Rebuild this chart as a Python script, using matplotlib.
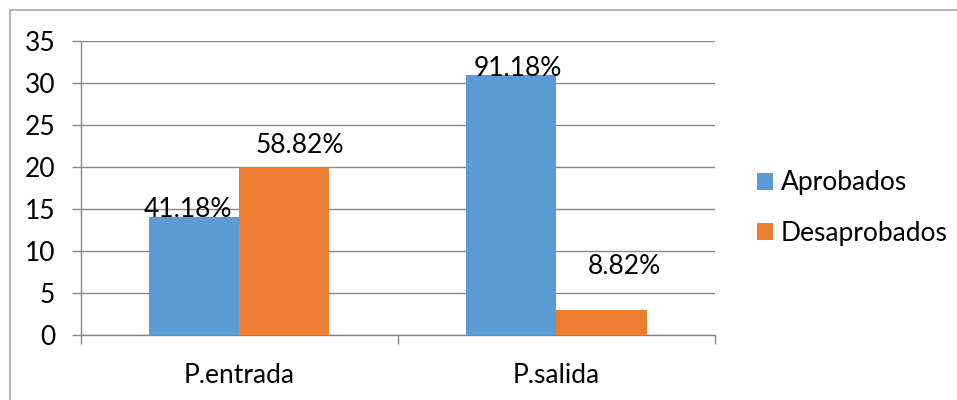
import numpy as np
import matplotlib
matplotlib.use('Agg')
from matplotlib import pyplot as plt
from matplotlib.patches import Rectangle

categories = ['P.entrada', 'P.salida']
aprobados = [14, 31]
desaprobados = [20, 3]
aprob_labels = ['41.18%', '91.18%']
desap_labels = ['58.82%', '8.82%']

blue = '#5B9BD5'
orange = '#ED7D31'
grid_col = '#878787'
fs = 19

plt.rcParams['font.family'] = ['Lato', 'DejaVu Sans']

fig = plt.figure(figsize=(9.57, 4.0), dpi=100)
ax = fig.add_axes([0.0846, 0.1625, 0.6625, 0.735])

x = np.arange(len(categories))
w = 0.284
b1 = ax.bar(x - w / 2, aprobados, w, color=blue, label='Aprobados', zorder=3)
b2 = ax.bar(x + w / 2, desaprobados, w, color=orange, label='Desaprobados', zorder=3)

# label offsets in pixels (dx, dy) relative to bar top centre
px = 0.72
aprob_off = [(-6, 0), (6, -1)]
desap_off = [(15, 14), (23, 36)]
for bars, labs, offs in [(b1, aprob_labels, aprob_off), (b2, desap_labels, desap_off)]:
    for bar, lab, (dx, dy) in zip(bars, labs, offs):
        ax.annotate(lab, (bar.get_x() + bar.get_width() / 2, bar.get_height()),
                    xytext=(dx * px, dy * px), textcoords='offset points',
                    ha='center', va='baseline', fontsize=fs, zorder=4)

ax.set_xlim(-0.5, 1.5)
ax.set_ylim(0, 35)
ax.set_yticks(range(0, 36, 5))
ax.yaxis.grid(True, color=grid_col, linewidth=1, zorder=0)
ax.set_xticks(x)
ax.set_xticklabels(categories)
ax.set_xticks([-0.5, 0.5, 1.5], minor=True)
ax.tick_params(axis='x', which='major', length=0, pad=20, labelsize=fs)
ax.tick_params(axis='x', which='minor', length=6.5, color=grid_col, width=1)
ax.tick_params(axis='y', length=6.5, color=grid_col, width=1, pad=12, labelsize=fs)

for s in ['top', 'right']:
    ax.spines[s].set_visible(False)
for s in ['left', 'bottom']:
    ax.spines[s].set_color(grid_col)
    ax.spines[s].set_linewidth(1)

leg = fig.legend(handles=[b1, b2], labels=['Aprobados', 'Desaprobados'],
                 loc='center left', bbox_to_anchor=(0.766, 0.48), frameon=False,
                 fontsize=fs, handlelength=0.6, handleheight=0.6,
                 handletextpad=0.3, labelspacing=0.95)

# outer chart border
fig.patches.append(Rectangle((10 / 957, -0.1), 1.0, 390 / 400 + 0.1,
                             transform=fig.transFigure, fill=False,
                             edgecolor='#A6A6A6', linewidth=1.2))

fig.savefig('out.png', dpi=100)
